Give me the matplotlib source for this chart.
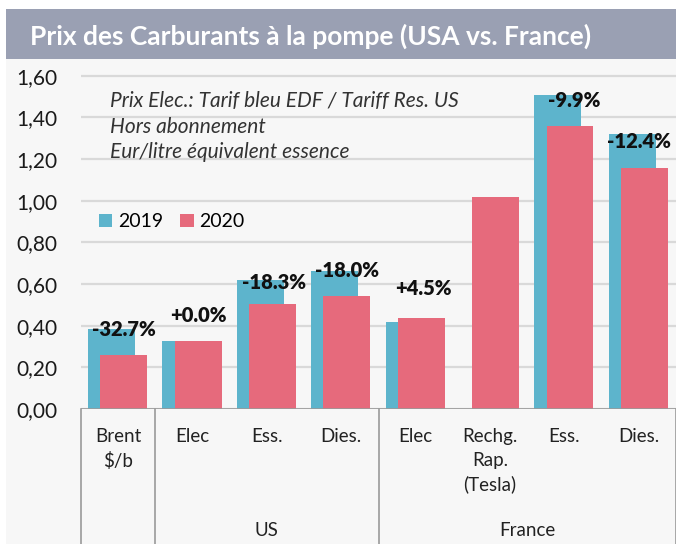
import numpy as np
import matplotlib
matplotlib.use('Agg')
import matplotlib.pyplot as plt
from matplotlib.patches import Rectangle, Patch

# values (EUR / litre equivalent)
categories = ['Brent\n$/b', 'Elec', 'Ess.', 'Dies.', 'Elec', 'Rechg.\nRap.\n(Tesla)', 'Ess.', 'Dies.']
groups = ['US', 'France']
v2019 = [0.383, 0.328, 0.619, 0.664, 0.418, np.nan, 1.507, 1.319]
v2020 = [0.259, 0.328, 0.504, 0.544, 0.435, 1.016, 1.360, 1.155]
pct_labels = ['-32.7%', '+0.0%', '-18.3%', '-18.0%', '+4.5%', '', '-9.9%', '-12.4%']
yticks = [0.0, 0.2, 0.4, 0.6, 0.8, 1.0, 1.2, 1.4, 1.6]
note = 'Prix Elec.: Tarif bleu EDF / Tariff Res. US\nHors abonnement\nEur/litre équivalent essence'
title = 'Prix des Carburants à la pompe (USA vs. France)'

# style
c19 = '#5DB4CC'
c20 = '#E66A7C'
bg = '#F7F7F7'
band = '#9AA0B3'
plt.rcParams['font.family'] = ['Lato', 'DejaVu Sans']

W, H = 676, 544
fig = plt.figure(figsize=(W / 100, H / 100), dpi=100)
fig.patch.set_facecolor('white')

# light gray chart background and title band
fig.add_artist(Rectangle((6 / W, 0), 1, 1 - 9 / H, transform=fig.transFigure,
                         facecolor=bg, edgecolor='none', zorder=0))
fig.add_artist(Rectangle((6 / W, 1 - 59 / H), 1, 50 / H, transform=fig.transFigure,
                         facecolor=band, edgecolor='none', zorder=1))
fig.text(30 / W, 1 - 36 / H, title, color='white', fontsize=19, fontweight='bold',
         va='center', ha='left', zorder=2)

ax = fig.add_axes([81 / W, 1 - 409 / H, 595 / W, 345 / H])
ax.set_facecolor('none')
ax.set_xlim(-0.5, 7.5)
ax.set_ylim(0, 345 / 208.3)

x = np.arange(len(categories))
bw = 0.63
ax.bar(x - 0.09, v2019, bw, color=c19, zorder=3)
ax.bar(x + 0.075, v2020, bw, color=c20, zorder=4)

# percentage labels
lbl_dy = [0.0, 0.12, -0.012, 0.003, 0.145, 0, -0.027, -0.036]
lbl_dx = [0.07, 0.08, 0.09, 0.07, 0.1, 0, 0.13, 0.0]
for i, t in enumerate(pct_labels):
    if not t:
        continue
    top = np.nanmax([v2019[i], v2020[i]])
    ax.text(i + lbl_dx[i], top + lbl_dy[i], t, ha='center', va='center',
            fontsize=14.5, fontweight='heavy', color='#111111', zorder=6)

# axes styling
ax.set_yticks(yticks)
ax.set_yticklabels([f'{v:.2f}'.replace('.', ',') for v in yticks], fontsize=15, color='#1a1a1a')
ax.tick_params(axis='y', length=0, pad=17)
ax.set_xticks([])
ax.grid(axis='y', color='#D9D9D9', linewidth=1.6, zorder=0)
for s in ax.spines.values():
    s.set_visible(False)
ax.axhline(0, color='#9A9A9A', linewidth=1.2, zorder=5)

# italic note
ax.text(-0.11, 1.355, note, fontsize=15, fontstyle='italic', color='#333333',
        va='center', ha='left', linespacing=1.34)

# legend
handles = [Patch(facecolor=c19, label='2019'), Patch(facecolor=c20, label='2020')]
ax.legend(handles=handles, loc='center left', bbox_to_anchor=(0.03, 0.543), ncol=2,
          frameon=False, fontsize=14, handlelength=0.7, handleheight=0.7,
          handletextpad=0.3, columnspacing=0.85, borderpad=0, borderaxespad=0)

# multi-level category axis below the plot
px = 208.3
for i, c in enumerate(categories):
    ax.text(i, -(428 - 409) / px, c, ha='center', va='top', fontsize=13.5,
            color='#222222', linespacing=1.47, clip_on=False)
for xb in [-0.5, 0.5, 3.5, 7.5]:
    ax.plot([xb, xb], [0, -(H - 409) / px], color='#9A9A9A', linewidth=1.2,
            clip_on=False, zorder=5)
ax.text(2.0, -(530 - 409) / px, groups[0], ha='center', va='center', fontsize=13.5,
        color='#222222', clip_on=False)
ax.text(5.5, -(530 - 409) / px, groups[1], ha='center', va='center', fontsize=13.5,
        color='#222222', clip_on=False)

fig.savefig('out.png', dpi=100)
